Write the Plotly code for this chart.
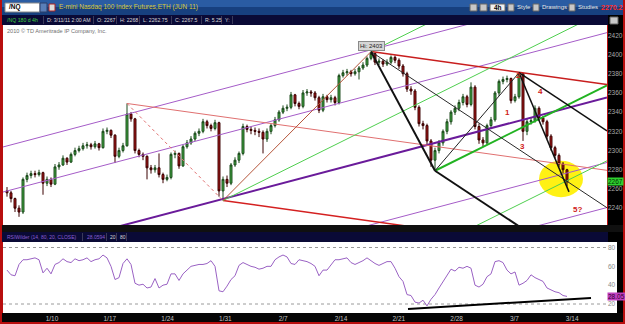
import plotly.graph_objects as go

W, H = 625, 324
FONT = "Liberation Sans"

# ---------------- data ----------------
week_labels = ["1/10", "1/17", "1/24", "1/31", "2/7", "2/14", "2/21", "2/28", "3/7", "3/14"]
price_ticks = [2240, 2260, 2280, 2300, 2320, 2340, 2360, 2380, 2400, 2420]
rsi_ticks = [20, 40, 60, 80]

first_open = 2258
closes = [2256, 2250, 2240, 2236, 2270, 2274, 2276, 2275, 2277, 2266,
          2270, 2265, 2283, 2285, 2292, 2288, 2296, 2300, 2302, 2305,
          2306, 2304, 2307, 2303, 2320, 2321, 2316, 2294, 2300, 2305,
          2338, 2333, 2300, 2296, 2294, 2282, 2280, 2282, 2275, 2270,
          2272, 2296, 2297, 2284, 2304, 2308, 2312, 2318, 2320, 2330,
          2326, 2323, 2329, 2258, 2270, 2266, 2285, 2290, 2297, 2325,
          2322, 2321, 2320, 2319, 2312, 2320, 2326, 2332, 2340, 2344,
          2345, 2358, 2349, 2346, 2360, 2361, 2360, 2355, 2342, 2356,
          2353, 2355, 2350, 2378, 2381, 2382, 2380, 2382, 2386, 2389,
          2396, 2401, 2392, 2393, 2390, 2392, 2397, 2394, 2388, 2380,
          2364, 2362, 2345, 2328, 2326, 2310, 2290, 2300, 2308, 2320,
          2330, 2340, 2344, 2350, 2356, 2348, 2366, 2325, 2311, 2308,
          2326, 2332, 2360, 2372, 2374, 2375, 2352, 2356, 2380, 2320,
          2330, 2331, 2344, 2334, 2330, 2315, 2303, 2295, 2286, 2280,
          2267.5]
highs = [2262, 2258, 2251, 2243, 2272, 2277, 2279, 2279, 2280, 2278,
         2273, 2272, 2286, 2288, 2295, 2293, 2298, 2303, 2305, 2308,
         2309, 2308, 2310, 2308, 2323, 2324, 2322, 2317, 2303, 2308,
         2349, 2340, 2334, 2302, 2298, 2295, 2285, 2285, 2297, 2277,
         2275, 2298, 2300, 2298, 2306, 2311, 2315, 2320, 2323, 2333,
         2332, 2328, 2332, 2330, 2273, 2274, 2287, 2293, 2299, 2328,
         2327, 2325, 2324, 2323, 2321, 2323, 2328, 2335, 2342, 2347,
         2348, 2361, 2359, 2351, 2363, 2364, 2363, 2362, 2357, 2359,
         2358, 2358, 2357, 2380, 2384, 2385, 2384, 2385, 2388, 2392,
         2398, 2403, 2402, 2396, 2395, 2395, 2399, 2399, 2396, 2390,
         2382, 2367, 2364, 2347, 2331, 2328, 2312, 2303, 2311, 2322,
         2333, 2342, 2347, 2353, 2359, 2358, 2371, 2368, 2328, 2314,
         2328, 2335, 2362, 2374, 2377, 2378, 2376, 2359, 2381, 2380,
         2333, 2334, 2347, 2346, 2336, 2332, 2317, 2305, 2297, 2288,
         2281]
lows = [2252, 2246, 2236, 2231, 2234, 2267, 2271, 2272, 2273, 2254,
        2263, 2262, 2264, 2280, 2284, 2285, 2287, 2294, 2298, 2300,
        2302, 2301, 2302, 2300, 2302, 2317, 2313, 2287, 2292, 2298,
        2304, 2330, 2297, 2293, 2290, 2270, 2276, 2277, 2272, 2266,
        2268, 2270, 2292, 2281, 2283, 2302, 2306, 2310, 2315, 2318,
        2323, 2320, 2321, 2252, 2248, 2262, 2264, 2283, 2287, 2295,
        2319, 2317, 2316, 2314, 2297, 2309, 2317, 2324, 2330, 2338,
        2341, 2343, 2346, 2343, 2344, 2357, 2356, 2352, 2339, 2340,
        2350, 2350, 2347, 2348, 2376, 2378, 2377, 2378, 2374, 2384,
        2387, 2394, 2389, 2389, 2387, 2388, 2390, 2391, 2385, 2377,
        2361, 2358, 2342, 2325, 2322, 2306, 2283, 2279, 2297, 2305,
        2317, 2327, 2337, 2341, 2347, 2345, 2346, 2322, 2307, 2304,
        2306, 2323, 2330, 2357, 2369, 2371, 2349, 2350, 2354, 2310,
        2316, 2327, 2329, 2331, 2327, 2312, 2300, 2292, 2283, 2276,
        2262.75]
rsi = [56, 51, 50, 62, 67, 67, 68, 69, 67, 53,
       58, 52, 62, 64, 68, 65, 64, 68, 66, 67,
       69, 65, 67, 68, 72, 69, 60, 46, 48, 63,
       68, 62, 42, 40, 41, 37, 38, 47, 37, 40,
       41, 52, 52, 45, 52, 56, 60, 61, 62, 62,
       63, 66, 60, 34, 33, 39, 46, 50, 61, 64,
       62, 60, 59, 57, 58, 60, 60, 67, 70, 72,
       70, 63, 62, 67, 66, 65, 63, 60, 50, 56,
       56, 61, 67, 67, 68, 69, 64, 62, 64, 66,
       69, 66, 63, 61, 63, 65, 65, 58, 49, 44,
       30, 29, 22, 21, 24, 18, 25, 30, 37, 44,
       51, 57, 55, 59, 58, 60, 58, 40, 38, 41,
       49, 52, 65, 66, 64, 56, 52, 54, 40, 42,
       45, 51, 48, 46, 44, 37, 35, 33, 32, 29,
       28.06]

# drawing anchors (bar index, price)
hi_0119 = (30, 2349)
lo_0131 = (54, 2248)
hi_0218 = (91, 2403)
lo_0222 = (107, 2279)
hi_0304 = (128, 2381)
purple_anchor = (103.25, 2303.8)
purple_slope = 1.099
purple_offsets = [114.5, 67.6, 0.0, -67.6, -114.5]
red_slope = -0.58
wave_line = [(128, 2381), (140.5, 2257)]
rsi_trend_bars = [100.25, 146.0]
rsi_trend_vals = [14.6, 26.5]
wave_labels = [("1", 125, 2340), ("2", 127.8, 2378), ("3", 128.8, 2304),
               ("4", 133.3, 2361), ("5?", 142.5, 2239)]

# ---------------- geometry ----------------
X0, X1 = 3, 607            # plot area px
MAIN_T, MAIN_B = 25, 225
RSI_T, RSI_B = 242, 313
XR = [-1, 150]
YR = [2222.5, 2430.7]
Y2R = [10.44, 85.84]


def fx(x):
    return x / W


def fy(y):
    return 1 - y / H


bars = list(range(len(closes)))
opens = [first_open] + closes[:-1]

fig = go.Figure()

fig.add_trace(go.Candlestick(
    x=bars, open=opens, high=highs, low=lows, close=closes,
    increasing=dict(line=dict(color="#1d4a1d", width=1), fillcolor="#3fae3f"),
    decreasing=dict(line=dict(color="#3a0000", width=1), fillcolor="#b01818"),
    whiskerwidth=0, xaxis="x", yaxis="y", hoverinfo="skip", showlegend=False))


def line(xs, ys, color, width=1, dash=None, ax="y"):
    fig.add_trace(go.Scatter(x=xs, y=ys, mode="lines", xaxis="x" if ax == "y" else "x2",
                             yaxis=ax, hoverinfo="skip", showlegend=False,
                             line=dict(color=color, width=width, dash=dash)))


def ray(p, slope, x_end, color, width=1, dash=None, x_start=None):
    xs = p[0] if x_start is None else x_start
    line([xs, x_end], [p[1] + slope * (xs - p[0]), p[1] + slope * (x_end - p[0])],
         color, width, dash)


# purple pitchfork (full width)
for off in purple_offsets:
    ax, ay = purple_anchor
    c = "#6a1b9a" if off == 0 else "#a55cc8"
    w = 2 if off == 0 else 1
    ray((ax, ay + off), purple_slope, XR[1], c, w, x_start=XR[0])

# red channel
ray(hi_0119, red_slope, XR[1], "#e07070", 1)
ray(lo_0131, red_slope, XR[1], "#d42020", 1.5)
ray(hi_0218, red_slope, XR[1], "#c81e1e", 1.5)
line([hi_0119[0], lo_0131[0]], [hi_0119[1], lo_0131[1]], "#e07070", 1, "dot")

# green pitchfork: P1=1/31 low, P2=Hi, P3=2/22 low
mx = (hi_0218[0] + lo_0222[0]) / 2
my = (hi_0218[1] + lo_0222[1]) / 2
g_slope = (my - lo_0131[1]) / (mx - lo_0131[0])
ray(lo_0131, g_slope, XR[1], "#4fcf4f", 1)
ray(hi_0218, g_slope, XR[1], "#4fcf4f", 1)
ray(lo_0222, g_slope, XR[1], "#22b322", 2)
g_gap = (lo_0131[1] + g_slope * (lo_0222[0] - lo_0131[0])) - lo_0222[1]
ray((lo_0222[0], lo_0222[1] - g_gap), g_slope, XR[1], "#4fcf4f", 1, x_start=112)
line([lo_0131[0], hi_0218[0]], [lo_0131[1], hi_0218[1]], "#b5553a", 1)

# black pitchfork: P1=Hi, P2=2/22 low, P3=3/4 high
bmx = (lo_0222[0] + hi_0304[0]) / 2
bmy = (lo_0222[1] + hi_0304[1]) / 2
b_slope = (bmy - hi_0218[1]) / (bmx - hi_0218[0])
ray(hi_0218, b_slope, XR[1], "#2a2a2a", 1)
ray(lo_0222, b_slope, XR[1], "#111111", 2)
ray(hi_0304, b_slope, XR[1], "#111111", 1.5)
line([hi_0218[0], lo_0222[0]], [hi_0218[1], lo_0222[1]], "#111111", 2)
line([lo_0222[0], hi_0304[0]], [lo_0222[1], hi_0304[1]], "#222222", 1)
line([p[0] for p in wave_line], [p[1] for p in wave_line], "#111111", 1.5)

# RSI
fig.add_trace(go.Scatter(x=bars, y=rsi, mode="lines", xaxis="x2", yaxis="y2",
                         line=dict(color="#9a62c4", width=1), hoverinfo="skip",
                         showlegend=False))
line(rsi_trend_bars, rsi_trend_vals, "#000000", 2, ax="y2")

# ---------------- chrome ----------------
shapes = []


def rect(x0, y0, x1, y1, color, lc=None):
    shapes.append(dict(type="rect", xref="paper", yref="paper",
                       x0=fx(x0), x1=fx(x1), y0=fy(y1), y1=fy(y0),
                       fillcolor=color, line=dict(width=1 if lc else 0, color=lc or color),
                       layer="below"))


rect(2, 0, 623, 8, "#2a5ca3")
rect(2, 7, 623, 15, "#17407f")
rect(2, 15, 608, 25, "#0a0a36")
rect(608, 15, 623, 25, "#000000")
rect(608, 25, 623, 232, "#000000")
rect(2, 225, 623, 232, "#101010")
rect(2, 232, 608, 242, "#0a0a36")
rect(608, 232, 623, 242, "#000000")
rect(607, 242, 617, 313, "#ffffff")
rect(617, 242, 623, 313, "#000000")
rect(2, 313, 623, 322, "#050505")
# title bar widgets
rect(5, 3, 40, 12, "#ffffff", "#888888")
rect(40, 3, 47, 12, "#5a7fb8", "#2a3f6a")
rect(49, 4, 55, 11, "#dddddd", "#aa2222")
rect(470, 4, 477, 11, "#c8c8c8", "#666666")
rect(480, 4, 487, 11, "#c8c8c8", "#666666")
rect(490, 4, 505, 11, "#f0f0f0", "#666666")
rect(508, 4, 514, 11, "#c8c8c8", "#666666")
rect(533, 4, 539, 11, "#c8c8c8", "#666666")
rect(569, 4, 575, 11, "#c8c8c8", "#666666")
rect(610, 17, 618, 24, "#c8c8c8", "#666666")
# info bar separators
for sx in [43, 93, 116, 139, 171, 201, 221, 232]:
    rect(sx, 16, sx + 1, 24, "#3a3a5a")
for sx in [82, 106, 116, 126]:
    rect(sx, 233, sx + 1, 241, "#3a3a5a")

# RSI dashed levels
for lv in [80, 20]:
    shapes.append(dict(type="line", xref="paper", yref="y2", x0=fx(X0), x1=fx(X1),
                       y0=lv, y1=lv, line=dict(color="#9a9a9a", width=1, dash="3px,3px"),
                       layer="below"))
# yellow highlight
shapes.append(dict(type="circle", xref="x", yref="y", x0=133, x1=144,
                   y0=2251.5, y1=2289.5, fillcolor="rgba(255,240,0,0.92)",
                   line=dict(width=0), layer="below"))

ann = []


def txt(x, y, s, color, size=6.5, anchor="left", bold=False, bg=None, xref="paper",
        yref="paper", border=None, yshift=0):
    d = dict(x=fx(x) if xref == "paper" else x, y=fy(y) if yref == "paper" else y,
             xref=xref, yref=yref, text=("<b>%s</b>" % s) if bold else s,
             showarrow=False, xanchor=anchor, yanchor="middle",
             font=dict(family=FONT, size=size, color=color), yshift=yshift)
    if bg:
        d["bgcolor"] = bg
        d["borderpad"] = 0
    if border:
        d["bordercolor"] = border
        d["borderwidth"] = 1
    ann.append(d)


txt(7, 7.5, "/NQ", "#000000", 6.5, bold=True)
txt(57, 7.5, "E-mini Nasdaq 100 Index Futures,ETH (JUN 11)", "#d8c83a", 6.5)
txt(497.5, 7.5, "4h", "#000000", 6.5, anchor="center", bold=True)
txt(515, 7.5, "Style", "#e8e8e8", 6.0)
txt(540, 7.5, "Drawings", "#e8e8e8", 6.0)
txt(576, 7.5, "Studies", "#e8e8e8", 6.0)
txt(599, 7.5, "2270.2", "#ff2a2a", 7, bold=True)

INFO = 5.2
txt(5, 20, "/NQ 180 d 4h", "#3fd23f", INFO)
txt(45, 20, "D: 3/11/11 2:00 AM", "#d8d8d8", INFO)
txt(95, 20, "O: 2267", "#d8d8d8", INFO)
txt(118, 20, "H: 2268", "#d8d8d8", INFO)
txt(141, 20, "L: 2262.75", "#d8d8d8", INFO)
txt(173, 20, "C: 2267.5", "#d8d8d8", INFO)
txt(203, 20, "R: 5.25", "#d8d8d8", INFO)
txt(223, 20, "Y:", "#d8d8d8", INFO)
txt(5, 31.5, "2010 © TD Ameritrade IP Company, Inc.", "#707070", 5.6)

txt(5, 237, "RSIWilder (14, 80, 20, CLOSE)", "#8a5fd0", 5.0)
txt(85, 237, "28.0594", "#8a5fd0", 5.0)
txt(108, 237, "20", "#d8d8d8", 5.0)
txt(118, 237, "80", "#d8d8d8", 5.0)

# price / rsi value boxes
ann.append(dict(x=fx(615), y=closes[-1], xref="paper", yref="y", text="2267",
                showarrow=False, xanchor="center", yanchor="middle", bgcolor="#2fd02f",
                borderpad=0, font=dict(family=FONT, size=6.5, color="#003300")))
ann.append(dict(x=fx(616), y=rsi[-1], xref="paper", yref="y2", text="28.05",
                showarrow=False, xanchor="center", yanchor="middle", bgcolor="#c040c0",
                borderpad=0, font=dict(family=FONT, size=6.5, color="#300030")))

# Hi label
ann.append(dict(x=hi_0218[0], y=hi_0218[1], xref="x", yref="y", text="Hi: 2403",
                showarrow=False, yanchor="bottom", yshift=1, bgcolor="#d6d6d6",
                bordercolor="#8a8a8a", borderwidth=1, borderpad=1,
                font=dict(family=FONT, size=6, color="#222222")))
for lab, bx, bp in wave_labels:
    ann.append(dict(x=bx, y=bp, xref="x", yref="y", text="<b>%s</b>" % lab,
                    showarrow=False, font=dict(family=FONT, size=8, color="#d02020")))

week_pos = [11.25 + 14.45 * k for k in range(len(week_labels))]

fig.update_layout(
    width=W, height=H, margin=dict(l=0, r=0, t=0, b=0),
    paper_bgcolor="#b80e0e", plot_bgcolor="#ffffff",
    shapes=shapes, annotations=ann, showlegend=False,
    xaxis=dict(domain=[fx(X0), fx(X1)], range=XR, showticklabels=False, showgrid=False,
               zeroline=False, rangeslider=dict(visible=False), anchor="y", fixedrange=True),
    yaxis=dict(domain=[fy(MAIN_B), fy(MAIN_T)], range=YR, side="right", showgrid=False,
               zeroline=False, tickvals=price_ticks, ticks="",
               tickfont=dict(family=FONT, size=6.5, color="#a8a8a8"), anchor="x"),
    xaxis2=dict(domain=[fx(X0), fx(X1)], range=XR, matches="x", showgrid=False,
                zeroline=False, tickvals=week_pos, ticktext=week_labels, ticks="",
                tickfont=dict(family=FONT, size=6.5, color="#c0c0c0"), anchor="y2"),
    yaxis2=dict(domain=[fy(RSI_B), fy(RSI_T)], range=Y2R, side="right", showgrid=False,
                zeroline=False, tickvals=rsi_ticks, ticks="",
                tickfont=dict(family=FONT, size=6.5, color="#8a8a8a"), anchor="x2"),
)

fig.write_html("out.html")
